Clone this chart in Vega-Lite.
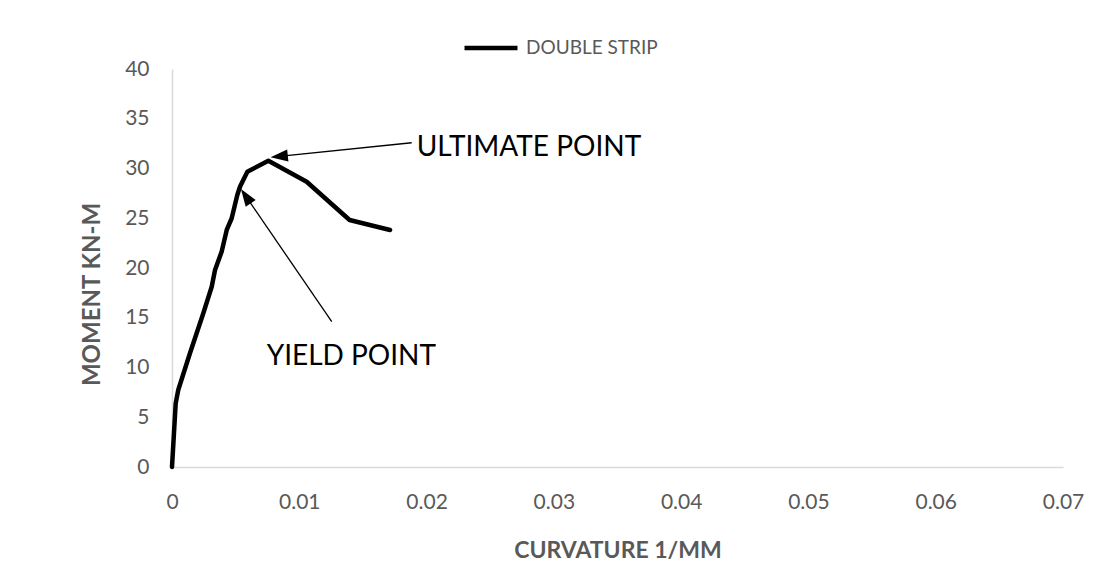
{
  "$schema": "https://vega.github.io/schema/vega-lite/v6.json",
  "autosize": "none",
  "width": 891,
  "height": 398,
  "padding": {"left": 172, "top": 69, "right": 49, "bottom": 101},
  "background": "white",
  "config": {
    "view": {"stroke": null},
    "font": "Lato"
  },
  "encoding": {
    "x": {
      "field": "curvature",
      "type": "quantitative",
      "scale": {"domain": [0, 0.07], "nice": false, "zero": true},
      "axis": {
        "title": "CURVATURE 1/MM",
        "values": [0, 0.01, 0.02, 0.03, 0.04, 0.05, 0.06, 0.07],
        "format": "~g",
        "grid": false,
        "ticks": false,
        "domainColor": "#d9d9d9",
        "domainWidth": 1.5,
        "labelFont": "Lato",
        "labelFontSize": 21,
        "labelColor": "#595959",
        "labelPadding": 24,
        "labelFlush": false,
        "labelOverlap": false,
        "titleFont": "Lato",
        "titleFontSize": 23,
        "titleFontWeight": "bold",
        "titleColor": "#595959",
        "titleX": 445.5,
        "titleY": 90,
        "titleBaseline": "alphabetic",
        "titleAlign": "center"
      }
    },
    "y": {
      "field": "moment",
      "type": "quantitative",
      "scale": {"domain": [0, 40], "nice": false},
      "axis": {
        "title": "MOMENT KN-M",
        "values": [0, 5, 10, 15, 20, 25, 30, 35, 40],
        "grid": false,
        "ticks": false,
        "domainColor": "#d9d9d9",
        "domainWidth": 1.5,
        "labelFont": "Lato",
        "labelFontSize": 21,
        "labelColor": "#595959",
        "labelPadding": 23,
        "labelBaseline": "middle",
        "labelOverlap": false,
        "titleFont": "Lato",
        "titleFontSize": 24,
        "titleFontWeight": "bold",
        "titleColor": "#595959",
        "titleAngle": -90,
        "titleX": -73,
        "titleY": 225,
        "titleBaseline": "alphabetic",
        "titleAlign": "center"
      }
    }
  },
  "layer": [
    {
      "data": {
        "values": [
          {"series": "DOUBLE STRIP", "curvature": 0, "moment": 0},
          {"series": "DOUBLE STRIP", "curvature": 0.00029, "moment": 6.4},
          {"series": "DOUBLE STRIP", "curvature": 0.00049, "moment": 7.74},
          {"series": "DOUBLE STRIP", "curvature": 0.00141, "moment": 11.43},
          {"series": "DOUBLE STRIP", "curvature": 0.00246, "moment": 15.45},
          {"series": "DOUBLE STRIP", "curvature": 0.00312, "moment": 18.12},
          {"series": "DOUBLE STRIP", "curvature": 0.00338, "moment": 19.8},
          {"series": "DOUBLE STRIP", "curvature": 0.0039, "moment": 21.64},
          {"series": "DOUBLE STRIP", "curvature": 0.0043, "moment": 23.82},
          {"series": "DOUBLE STRIP", "curvature": 0.00469, "moment": 25.0},
          {"series": "DOUBLE STRIP", "curvature": 0.00513, "moment": 27.34},
          {"series": "DOUBLE STRIP", "curvature": 0.00534, "moment": 28.17},
          {"series": "DOUBLE STRIP", "curvature": 0.00592, "moment": 29.68},
          {"series": "DOUBLE STRIP", "curvature": 0.00757, "moment": 30.78},
          {"series": "DOUBLE STRIP", "curvature": 0.01058, "moment": 28.67},
          {"series": "DOUBLE STRIP", "curvature": 0.01395, "moment": 24.82},
          {"series": "DOUBLE STRIP", "curvature": 0.01713, "moment": 23.82}
        ]
      },
      "mark": {"type": "line", "strokeWidth": 4.5, "strokeJoin": "round", "strokeCap": "round"},
      "encoding": {
        "order": {"field": "curvature", "type": "quantitative"},
        "color": {
          "field": "series",
          "type": "nominal",
          "scale": {"domain": ["DOUBLE STRIP"], "range": ["#000000"]},
          "legend": {
            "title": null,
            "orient": "none",
            "legendX": 290,
            "legendY": -50,
            "padding": 0,
            "symbolType": "stroke",
            "symbolSize": 2809,
            "symbolStrokeWidth": 4.5,
            "symbolStrokeColor": "#000000",
            "labelFont": "Lato",
            "labelFontSize": 19,
            "labelColor": "#595959",
            "labelOffset": 6
          }
        }
      }
    },
    {
      "data": {
        "values": [
          {"curvature": 0.01883, "moment": 32.59, "curvature2": 0.00842, "moment2": 31.21},
          {"curvature": 0.01255, "moment": 14.6, "curvature2": 0.0058, "moment2": 27.22}
        ]
      },
      "mark": {"type": "rule", "color": "#000000", "strokeWidth": 1.3},
      "encoding": {
        "x2": {"field": "curvature2"},
        "y2": {"field": "moment2"}
      }
    },
    {
      "data": {"values": [{"curvature": 0.00842, "moment": 31.21}]},
      "mark": {"type": "point", "shape": "M0,-1L0.7,1L-0.7,1Z", "size": 300, "angle": 264, "filled": true, "color": "#000000", "opacity": 1}
    },
    {
      "data": {"values": [{"curvature": 0.0058, "moment": 27.22}]},
      "mark": {"type": "point", "shape": "M0,-1L0.7,1L-0.7,1Z", "size": 300, "angle": 325.7, "filled": true, "color": "#000000", "opacity": 1}
    },
    {
      "data": {
        "values": [
          {"label": "ULTIMATE POINT", "curvature": 0.01922, "moment": 31.26},
          {"label": "YIELD POINT", "curvature": 0.00744, "moment": 10.25}
        ]
      },
      "mark": {"type": "text", "align": "left", "baseline": "alphabetic", "font": "Lato", "fontSize": 28, "color": "#000000"},
      "encoding": {
        "text": {"field": "label", "type": "nominal"}
      }
    }
  ]
}
